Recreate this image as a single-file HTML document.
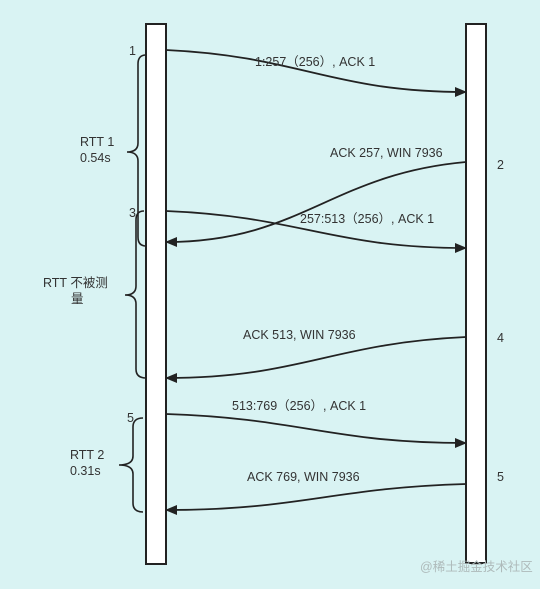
<!DOCTYPE html>
<html><head><meta charset="utf-8"><style>
html,body{margin:0;padding:0;background:#d9f3f3;}
svg{display:block;font-family:"Liberation Sans","Noto Sans CJK SC",sans-serif;}
</style></head><body>
<svg id="c" width="540" height="589" viewBox="0 0 540 589">
<defs><marker id="ah" markerWidth="12" markerHeight="10" refX="11" refY="5" orient="auto" markerUnits="userSpaceOnUse"><path d="M0,0 L12,5 L0,10 Z" fill="#222"/></marker></defs>
<rect x="0" y="0" width="540" height="589" fill="#d9f3f3"/>
<rect x="146" y="24" width="20" height="540" fill="#fff" stroke="#222" stroke-width="2"/>
<rect x="466" y="24" width="20" height="539" fill="#fff" stroke="#222" stroke-width="2"/>
<g id="msgs"></g>
<g fill="none" stroke="#222" stroke-width="1.6">
<path d="M146,55 Q138,55 138,64 L138,143 Q138,152 127,152 Q138,152 138,161 L138,237 Q138,246 146,246"/>
<path d="M144,211 Q136,211 136,220 L136,286 Q136,295 125,295 Q136,295 136,304 L136,369 Q136,378 146,378"/>
<path d="M143,418 Q133,418 133,427 L133,456 Q133,465 119,465 Q133,465 133,474 L133,503 Q133,512 143,512"/>
</g>
<g font-size="12.5" fill="#333">
<text x="80" y="146">RTT 1</text>
<text x="80" y="162">0.54s</text>
<text x="43" y="287">RTT 不被测</text>
<text x="71" y="303">量</text>
<text x="70" y="459">RTT 2</text>
<text x="70" y="475">0.31s</text>
<text x="129" y="55">1</text>
<text x="129" y="217">3</text>
<text x="127" y="422">5</text>
<text x="497" y="169">2</text>
<text x="497" y="342">4</text>
<text x="497" y="481">5</text>
</g>
<text x="420" y="571" font-size="12.5" fill="#aebaba">@稀土掘金技术社区</text>
</svg>
<script>
const labels=["1:257（256）, ACK 1","ACK 257, WIN 7936","257:513（256）, ACK 1","ACK 513, WIN 7936","513:769（256）, ACK 1","ACK 769, WIN 7936"];
const startY=[50,162,211,337,414,484];
const endY=[92,242,248,378,443,510];
const dir=[1,-1,1,-1,1,-1];
const labelX=[255,330,300,243,232,247];
const labelY=[66,157,223,339,410,481];
const g=document.getElementById('msgs');
const NS="http://www.w3.org/2000/svg";
for(let i=0;i<labels.length;i++){
 const x0=dir[i]>0?166:466, x1=dir[i]>0?466:166;
 const y0=startY[i], y1=endY[i];
 const p=document.createElementNS(NS,'path');
 const cx1=x0+(x1-x0)*0.45, cx2=x0+(x1-x0)*0.55;
 p.setAttribute('d',`M${x0},${y0} C${cx1},${y0+(y1-y0)*0.15} ${cx2},${y1} ${x1},${y1}`);
 p.setAttribute('fill','none');p.setAttribute('stroke','#222');p.setAttribute('stroke-width','1.8');
 p.setAttribute('marker-end','url(#ah)');
 
 
 g.appendChild(p);
 const t=document.createElementNS(NS,'text');
 t.setAttribute('x',labelX[i]);t.setAttribute('y',labelY[i]);
 t.setAttribute('font-size','12.5');t.setAttribute('fill','#333');
 t.textContent=labels[i];
 
 
 g.appendChild(t);
}
</script>
</body></html>
